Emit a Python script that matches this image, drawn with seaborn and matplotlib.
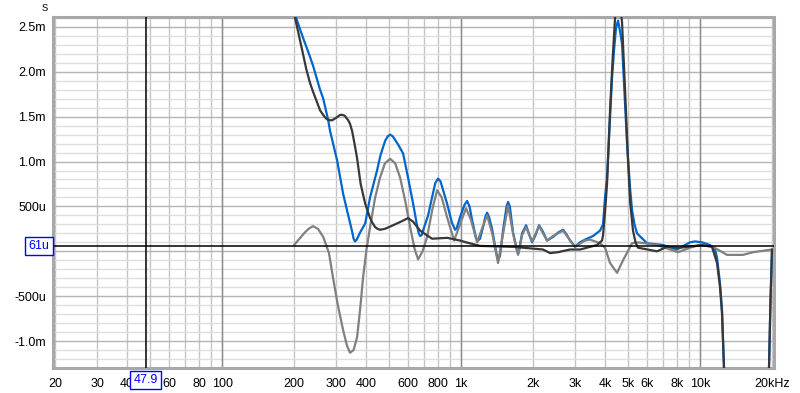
import numpy as np
import pandas as pd
import matplotlib
matplotlib.use('Agg')
import matplotlib.pyplot as plt
import seaborn as sns
from matplotlib.ticker import FixedLocator, NullFormatter

sns.set_style('white')
plt.rcParams['font.family'] = ['Liberation Sans', 'DejaVu Sans']

# ============================================================
# Data (group delay, ms)
# ============================================================
blue_f = [200, 204, 218, 233, 240, 257, 265, 278, 283, 303, 321, 333, 340, 350, 355, 360,
          366, 372, 378, 397, 416, 445, 460, 481, 493, 505, 518, 530, 545, 572, 600, 630,
          655, 665, 674, 684, 693, 728, 756, 780, 801, 820, 835, 874, 915, 944, 960, 990,
          1035, 1060, 1085, 1110, 1155, 1178, 1200, 1236, 1265, 1285, 1310, 1348, 1400,
          1428, 1455, 1498, 1550, 1573, 1600, 1650, 1710, 1732, 1755, 1800, 1871, 1920,
          1982, 2050, 2120, 2200, 2289, 2426, 2550, 2672, 2760, 2858, 2999, 3147, 3303,
          3567, 3815, 3928, 4004, 4082, 4202, 4284, 4370, 4452, 4539, 4627, 4717, 4856,
          4950, 5094, 5194, 5320, 5450, 6000, 7000, 8014, 9082, 9530, 10195, 11010, 11556,
          11780, 12127, 12363, 12601, 13000, 19000, 19440, 19700, 20010]
blue_ms = [2.75, 2.60, 2.38, 2.17, 2.07, 1.80, 1.70, 1.46, 1.34, 1.01, 0.64, 0.46, 0.36, 0.22, 0.14, 0.11,
           0.13, 0.17, 0.21, 0.31, 0.60, 0.90, 1.07, 1.23, 1.28, 1.30, 1.28, 1.24, 1.19, 1.09, 0.82, 0.53,
           0.28, 0.20, 0.17, 0.18, 0.23, 0.40, 0.60, 0.76, 0.81, 0.78, 0.71, 0.53, 0.32, 0.24, 0.26, 0.38,
           0.52, 0.56, 0.50, 0.36, 0.15, 0.12, 0.14, 0.27, 0.39, 0.43, 0.38, 0.25, 0.00,
           -0.10, -0.05, 0.23, 0.50, 0.55, 0.50, 0.21, 0.02, -0.03, 0.03, 0.20, 0.29, 0.20,
           0.10, 0.18, 0.29, 0.22, 0.12, 0.16, 0.21, 0.24, 0.19, 0.12, 0.05, 0.10, 0.13,
           0.17, 0.23, 0.30, 0.60, 0.82, 1.49, 1.93, 2.25, 2.49, 2.57, 2.45, 2.31, 1.64,
           1.20, 0.71, 0.46, 0.30, 0.20, 0.09, 0.07, 0.02, 0.10, 0.11, 0.10, 0.07, 0.02,
           -0.07, -0.36, -0.65, -1.30, -3.0, -3.0, -1.30, -0.60, 0.02]

dark_f = [200, 202, 218, 225, 233, 240, 257, 268, 275, 282, 289, 297, 305, 312, 318, 326,
          337, 343, 350, 357, 367, 380, 397, 415, 425, 437, 447, 458, 480, 519, 560, 600,
          630, 674, 756, 874, 990, 1049, 1201, 1650, 2001, 2203, 2357, 2546, 2858, 3147,
          3707, 3890, 3928, 4004, 4082, 4202, 4300, 4410, 4496, 4627, 4717, 4856, 4997,
          5100, 5243, 5370, 5503, 6608, 7275, 8248, 10195, 11225, 11780, 12127, 12363,
          12601, 13000, 19000, 19440, 19700, 20010]
dark_ms = [2.75, 2.60, 2.20, 2.03, 1.88, 1.78, 1.57, 1.50, 1.47, 1.46, 1.46, 1.48, 1.50, 1.52, 1.52, 1.51,
           1.46, 1.42, 1.34, 1.22, 1.04, 0.75, 0.53, 0.38, 0.32, 0.27, 0.25, 0.24, 0.25, 0.29, 0.33, 0.37,
           0.33, 0.23, 0.14, 0.15, 0.12, 0.10, 0.06, 0.05, 0.03, 0.02, -0.02, -0.01, 0.02, 0.02,
           0.07, 0.12, 0.18, 0.44, 0.75, 1.57, 2.10, 2.60, 2.80, 2.75, 2.55, 1.80, 1.01,
           0.55, 0.23, 0.10, 0.04, 0.00, 0.05, 0.04, 0.07, 0.05, -0.13, -0.40, -0.70,
           -1.30, -3.0, -3.0, -1.30, -0.60, 0.02]

grey_f = [200, 222, 230, 240, 252, 265, 280, 291, 305, 321, 333, 343, 355, 367, 378, 389,
          402, 416, 437, 458, 480, 505, 530, 556, 585, 612, 640, 661, 690, 721, 760, 794,
          830, 874, 935, 990, 1049, 1100, 1167, 1230, 1285, 1350, 1428, 1500, 1573, 1650,
          1732, 1800, 1871, 1982, 2120, 2289, 2426, 2672, 2999, 3303, 3465, 3815, 4004,
          4202, 4496, 4763, 5194, 5503, 6608, 8090, 9082, 10000, 11333, 12973, 15130,
          16670, 20010]
grey_ms = [0.07, 0.21, 0.25, 0.28, 0.25, 0.16, -0.02, -0.29, -0.60, -0.88, -1.05, -1.13, -1.10, -0.96, -0.65, -0.29,
           0.02, 0.27, 0.60, 0.82, 0.98, 1.03, 0.98, 0.82, 0.55, 0.27, 0.02, -0.09, 0.00, 0.16, 0.48, 0.68,
           0.60, 0.38, 0.12, 0.30, 0.48, 0.35, 0.10, 0.27, 0.40, 0.20, -0.13, 0.20, 0.51, 0.20,
           -0.04, 0.18, 0.27, 0.11, 0.28, 0.12, 0.17, 0.23, 0.05, 0.12, 0.13, 0.09, 0.04,
           -0.13, -0.24, -0.10, 0.09, 0.10, 0.07, -0.01, 0.04, 0.07, 0.05, -0.04, -0.04,
           -0.01, 0.02]

x_ticks = [20, 30, 40, 60, 80, 100, 200, 300, 400, 600, 800, 1000, 2000, 3000, 4000,
           5000, 6000, 8000, 10000, 20000]
x_labels = ['20', '30', '40', '60', '80', '100', '200', '300', '400', '600', '800', '1k',
            '2k', '3k', '4k', '5k', '6k', '8k', '10k', '20kHz']
y_ticks = [-1.0, -0.5, 0.0, 0.5, 1.0, 1.5, 2.0, 2.5]
y_labels = ['-1.0m', '-500u', '', '500u', '1.0m', '1.5m', '2.0m', '2.5m']

cursor_f = 47.9
cursor_ms = 0.061

df = pd.concat([
    pd.DataFrame({'f': blue_f, 'ms': blue_ms, 'trace': 'blue'}),
    pd.DataFrame({'f': grey_f, 'ms': grey_ms, 'trace': 'grey'}),
    pd.DataFrame({'f': dark_f, 'ms': dark_ms, 'trace': 'dark'}),
])
colors = {'blue': '#0066CC', 'grey': '#808080', 'dark': '#383838'}

# ============================================================
# Plot
# ============================================================
fig = plt.figure(figsize=(8, 3.93), dpi=100)
ax = fig.add_axes([53 / 800, 25 / 393, 721 / 800, 351 / 393])

for i, tr in enumerate(['blue', 'grey', 'dark']):
    sns.lineplot(data=df[df.trace == tr], x='f', y='ms', color=colors[tr],
                 linewidth=1.6, ax=ax, zorder=3 + i, sort=False,
                 solid_joinstyle='round', solid_capstyle='round')

ax.set_xscale('log')
ax.set_xlim(19.6, 20400)
ax.set_ylim(-1.30, 2.61)

minor_x = [m * 10 ** d for d in range(1, 5) for m in range(1, 10) if 20 <= m * 10 ** d <= 20000]
ax.xaxis.set_major_locator(FixedLocator(x_ticks))
ax.set_xticklabels(x_labels)
ax.xaxis.set_minor_locator(FixedLocator(minor_x))
ax.xaxis.set_minor_formatter(NullFormatter())
ax.yaxis.set_major_locator(FixedLocator(y_ticks))
ax.set_yticklabels(y_labels)
ax.yaxis.set_minor_locator(FixedLocator(np.round(np.arange(-1.3, 2.61, 0.1), 2)))

ax.grid(False)
ax.grid(which='both', axis='x', color='#C4C4C4', linewidth=1.0, zorder=0)
ax.grid(which='minor', axis='y', color='#DEDEDE', linewidth=1.0, zorder=0)
ax.grid(which='major', axis='y', color='#B4B4B4', linewidth=1.0, zorder=0)
for d in [100, 1000, 10000]:
    ax.axvline(d, color='#8C8C8C', linewidth=1.0, zorder=1)

ax.tick_params(axis='both', which='both', length=0, labelsize=9, colors='black')
ax.tick_params(axis='x', pad=7)
ax.tick_params(axis='y', pad=5)
for s in ax.spines.values():
    s.set_color('#A8A8A8')
    s.set_linewidth(2.2)

ax.set_xlabel('')
ax.set_ylabel('')

# cursor
ax.axhline(cursor_ms, color='black', linewidth=1.1, zorder=8)
ax.axvline(cursor_f, color='black', linewidth=1.1, zorder=8)
box = dict(boxstyle='square,pad=0.25', fc='white', ec='#0000FF', lw=1.0)
ax.text(-0.0195, cursor_ms, '61u', transform=ax.get_yaxis_transform(), ha='center', va='center',
        color='#0000FF', fontsize=9, bbox=box, zorder=10, clip_on=False)
ax.text(cursor_f, -0.034, '47.9', transform=ax.get_xaxis_transform(), ha='center', va='center',
        color='#0000FF', fontsize=9, bbox=box, zorder=10, clip_on=False)

fig.text(45 / 800, 1 - 8 / 393, 's', ha='center', va='center', fontsize=9)

fig.savefig('out.png', dpi=100)
